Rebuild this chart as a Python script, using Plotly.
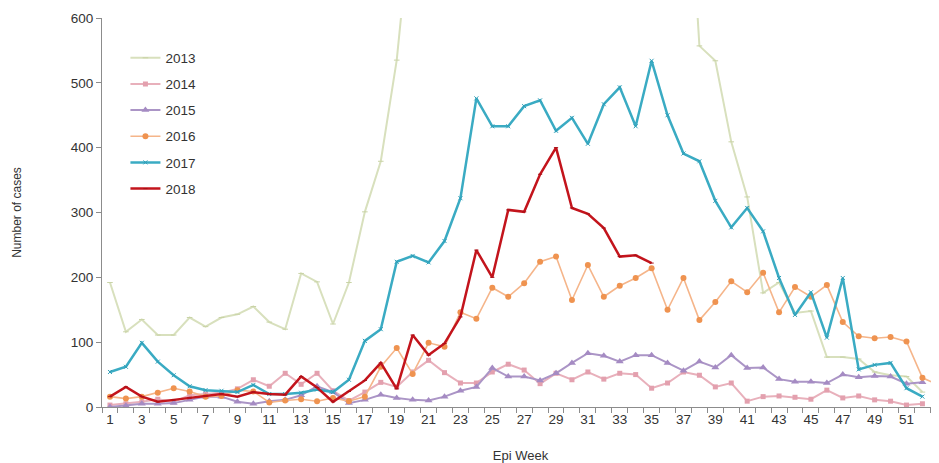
import plotly.graph_objects as go

weeks_52 = list(range(1, 53))
weeks_53 = list(range(1, 54))
weeks_2018 = list(range(1, 36))

cases_2013 = [192, 116, 135, 111, 111, 138, 124, 138, 143, 155, 131, 120, 206, 193, 128, 192, 301, 379, 535,
              780, 900, 1000, 1100, 1150, 1200, 1180, 1150, 1100, 1080, 1050, 1000, 980, 1000, 1050, 1100, 1050, 960,
              557, 534, 409, 324, 176, 192, 145, 148, 77, 77, 74, 54, 49, 47, 23]
cases_2014 = [3, 5, 8, 12, 8, 18, 20, 22, 28, 42, 32, 52, 35, 52, 25, 10, 23, 38, 31, 54, 72, 53, 37, 37, 54, 66,
              57, 36, 52, 42, 54, 43, 52, 50, 29, 37, 54, 49, 31, 37, 9, 16, 17, 15, 12, 26, 14, 17, 11, 9, 3, 5]
cases_2015 = [0, 2, 5, 5, 6, 11, 16, 16, 8, 5, 9, 11, 18, 32, 23, 6, 11, 19, 14, 11, 10, 16, 25, 31, 60, 47, 47,
              41, 52, 68, 83, 79, 70, 80, 80, 68, 56, 70, 61, 80, 60, 61, 43, 39, 39, 37, 50, 46, 48, 47, 36, 38]
cases_2016 = [16, 13, 16, 22, 29, 24, 16, 17, 26, 24, 7, 10, 12, 9, 14, 9, 16, 62, 91, 51, 99, 93, 146, 136, 184,
              170, 191, 224, 232, 165, 219, 170, 187, 199, 214, 150, 199, 134, 162, 194, 177, 207, 146, 185, 170,
              188, 131, 109, 106, 108, 101, 45, 34]
cases_2017 = [54, 62, 99, 70, 49, 32, 26, 25, 23, 34, 20, 20, 22, 27, 23, 42, 102, 120, 224, 233, 223, 256, 322,
              476, 433, 433, 464, 473, 426, 446, 406, 467, 493, 433, 534, 450, 391, 379, 318, 277, 307, 271, 199,
              142, 177, 107, 199, 58, 65, 68, 29, 16]
cases_2018 = [16, 31, 16, 8, 11, 14, 17, 20, 16, 23, 20, 19, 47, 30, 8, 24, 41, 68, 28, 111, 80, 98, 139, 242,
              200, 304, 301, 359, 400, 307, 298, 276, 232, 234, 222]

y_ticks = [0, 100, 200, 300, 400, 500, 600]
x_tick_labels = list(range(1, 53, 2))

fig = go.Figure()

def add(name, x, y, line_color, marker_color, width, symbol, size):
    fig.add_trace(go.Scatter(
        x=x, y=y, name=name, mode="lines+markers", legendgroup=name,
        line=dict(color=line_color, width=width),
        marker=dict(color=marker_color, symbol=symbol, size=size),
        cliponaxis=True,
    ))

add("2013", weeks_52, cases_2013, "#d8e0bd", "#c9d3a6", 2, "line-ew-open", 4)
add("2014", weeks_52, cases_2014, "#e8b0bb", "#e3a0ae", 2, "square", 5)
add("2015", weeks_52, cases_2015, "#ab95c6", "#a58bc3", 2, "triangle-up", 7)
add("2016", weeks_53, cases_2016, "#f5b58a", "#ef9350", 1.6, "circle", 6)
add("2017", weeks_52, cases_2017, "#3aabc3", "#2f9fb8", 2.5, "x-thin-open", 4)
add("2018", weeks_2018, cases_2018, "#c3141c", "#a80f16", 2.5, "line-ew-open", 3)

fig.update_layout(
    width=931, height=455,
    margin=dict(l=94, r=0, t=10, b=56),
    paper_bgcolor="white", plot_bgcolor="white",
    font=dict(family="Liberation Sans, Arial, sans-serif", size=13, color="#333333"),
    showlegend=True,
    legend=dict(x=0.028, y=0.937, xanchor="left", yanchor="top",
                bgcolor="rgba(0,0,0,0)", font=dict(size=13.5, color="#333333"),
                tracegroupgap=5.6, traceorder="grouped", itemwidth=30),
    xaxis=dict(
        range=[0.5, 53.04], tickmode="array", tickvals=x_tick_labels,
        ticktext=[str(v) for v in x_tick_labels], ticks="", showgrid=False,
        showline=True, linecolor="#8c8c8c", linewidth=1, zeroline=False,
        tickfont=dict(size=13.5, color="#333333"),
        minor=dict(ticks="outside", tick0=0.5, dtick=1, ticklen=5, tickcolor="#8c8c8c", showgrid=False),
        title=dict(text="Epi Week", font=dict(size=13, color="#333333"), standoff=24),
    ),
    yaxis=dict(
        range=[0, 600], tickmode="array", tickvals=y_ticks, ticks="outside", ticklen=5,
        tickcolor="#8c8c8c", showgrid=False, showline=True, linecolor="#8c8c8c", linewidth=1,
        zeroline=False, tickfont=dict(size=13.5, color="#333333"),
        title=dict(text="Number of cases", font=dict(size=12, color="#333333"), standoff=46),
    ),
)

fig.write_html("out.html")
